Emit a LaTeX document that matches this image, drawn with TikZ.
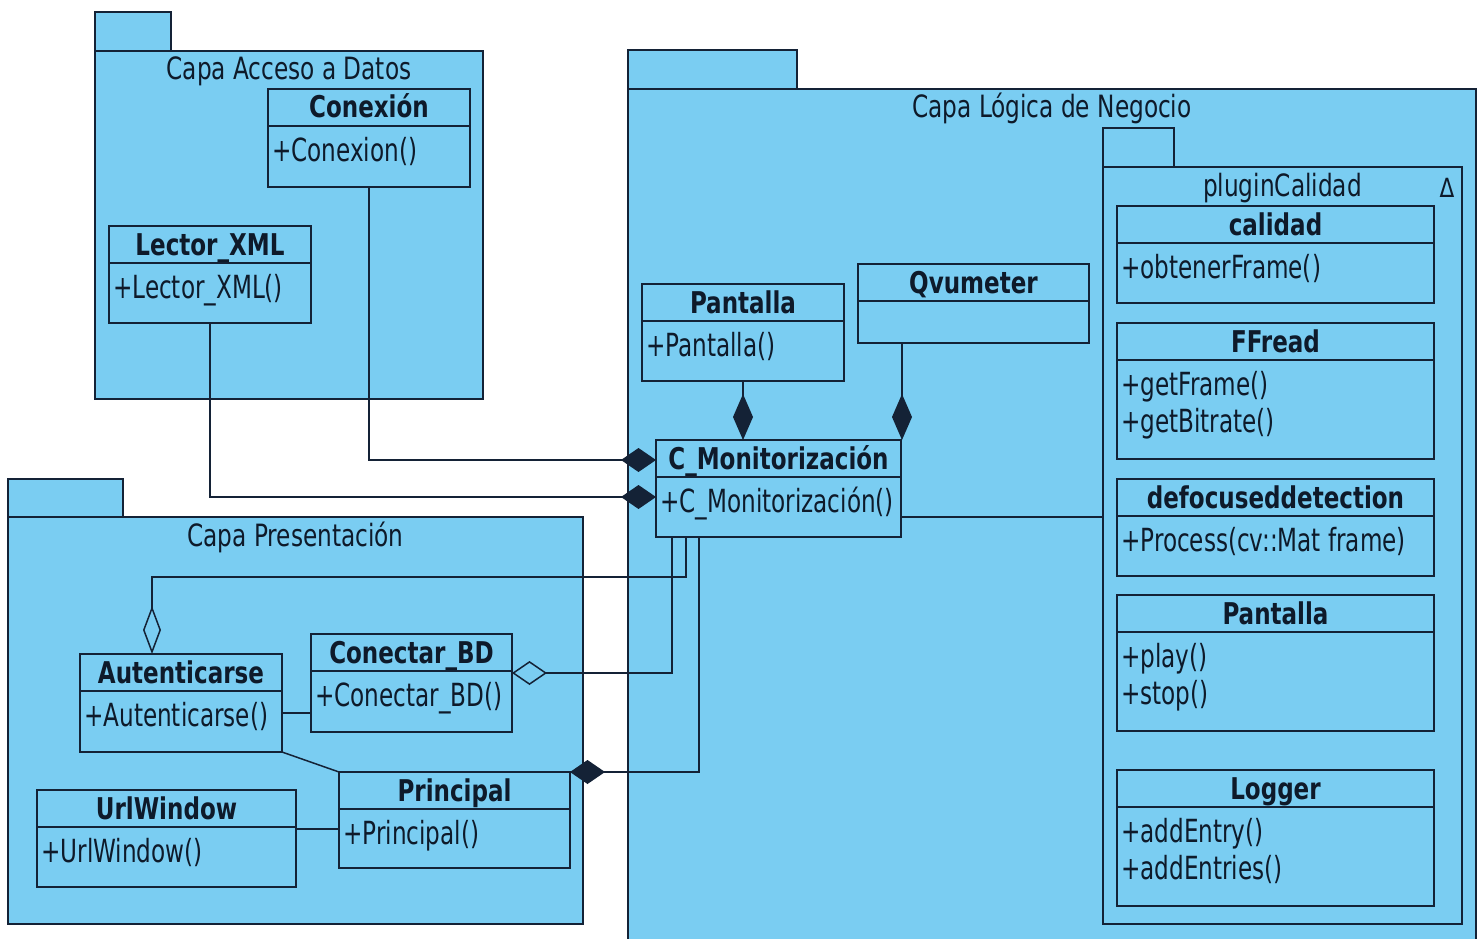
\documentclass[tikz,border=0pt]{standalone}
\usepackage{fontspec}
\setmainfont{DejaVu Sans Condensed}
\usepackage{graphicx}
\usepackage{tikz}
\usetikzlibrary{arrows.meta}
\usepackage{xcolor}
\definecolor{umlfill}{RGB}{122,205,242}
\definecolor{umlline}{RGB}{20,34,54}
\definecolor{umltext}{RGB}{14,26,42}

% taller glyphs, as in the screenshot
\newcommand{\tall}[2]{\scalebox{1}[#1]{#2}}

% one class box: name, left, top, width, height, title, operations
\newcommand{\umlclass}[7]{%
  \node[cls,minimum width=#4pt,minimum height=#5pt] (#1) at (#2,#3) {};
  \draw[link] ([yshift=-37pt]#1.north west) -- ([yshift=-37pt]#1.north east);
  \node[clsname] at ([yshift=-29pt]#1.north) {\tall{1.17}{#6}};
  \foreach \op [count=\k] in {#7} {
    \node[clsop] at ({#2+4},{#3+35+37*\k}) {\tall{1.24}{\op}};
  }
}

\begin{document}
\begin{tikzpicture}[x=1pt,y=-1pt,line cap=round,
  pkg/.style={draw=umlline,fill=umlfill,line width=1.5pt,anchor=north west,inner sep=0pt,outer sep=0pt},
  cls/.style={draw=umlline,fill=umlfill,line width=1.5pt,anchor=north west,inner sep=0pt,outer sep=0pt},
  link/.style={draw=umlline,line width=1.5pt},
  pkgtitle/.style={font=\fontsize{25.8}{30}\selectfont,text=umltext,anchor=base,inner sep=0pt},
  clsname/.style={font=\bfseries\fontsize{25.6}{30}\selectfont,text=umltext,anchor=base,inner sep=0pt},
  clsop/.style={font=\fontsize{25.7}{30}\selectfont,text=umltext,anchor=base west,inner sep=0pt},
  compH/.style={link,-{Diamond[length=35pt,width=24pt,fill=umlline]}},
  compV/.style={link,-{Diamond[length=46pt,width=20pt,fill=umlline]}},
  aggH/.style={link,-{Diamond[length=35pt,width=24pt,fill=umlfill]}},
  aggV/.style={link,-{Diamond[length=48pt,width=18pt,fill=umlfill]}}]
\useasboundingbox[fill=white] (0,0) rectangle (1483,939);

% packages
\node[pkg,minimum width=76pt,minimum height=39pt] (datostab) at (95,12) {};
\node[pkg,minimum width=388pt,minimum height=348pt] (datos) at (95,51) {};
\node[pkgtitle] at ([yshift=-29pt]datos.north) {\tall{1.19}{Capa Acceso a Datos}};

\node[pkg,minimum width=169pt,minimum height=39pt] (logicatab) at (628,50) {};
\node[pkg,minimum width=848pt,minimum height=855pt] (logica) at (628,89) {};
\node[pkgtitle] at ([yshift=-29pt]logica.north) {\tall{1.19}{Capa Lógica de Negocio}};

\node[pkg,minimum width=115pt,minimum height=38pt] (presenttab) at (8,479) {};
\node[pkg,minimum width=575pt,minimum height=407pt] (present) at (8,517) {};
\node[pkgtitle] at ([yshift=-29pt]present.north) {\tall{1.19}{Capa Presentación}};

\node[pkg,minimum width=71pt,minimum height=39pt] (plugintab) at (1103,128) {};
\node[pkg,minimum width=359pt,minimum height=757pt] (plugin) at (1103,167) {};
\node[pkgtitle] at ([yshift=-29pt]plugin.north) {\tall{1.19}{pluginCalidad}};
\node[pkgtitle,font=\fontsize{24}{28}\selectfont] (pluginmark) at (1447,197) {\tall{1.1}{Δ}};

% classes
\umlclass{conex}{268}{89}{202}{98}{Conexión}{+Conexion()}
\umlclass{lector}{109}{226}{202}{97}{Lector\_XML}{+Lector\_XML()}
\umlclass{pantalla}{642}{284}{202}{97}{Pantalla}{+Pantalla()}
\umlclass{qvu}{858}{264}{231}{79}{Qvumeter}{}
\umlclass{cmon}{656}{440}{245}{97}{C\_Monitorización}{+C\_Monitorización()}
\umlclass{calidad}{1117}{206}{317}{97}{calidad}{+obtenerFrame()}
\umlclass{ffread}{1117}{323}{317}{136}{FFread}{+getFrame(),+getBitrate()}
\umlclass{defoc}{1117}{479}{317}{97}{defocuseddetection}{+Process(cv::Mat frame)}
\umlclass{player}{1117}{595}{317}{136}{Pantalla}{+play(),+stop()}
\umlclass{logger}{1117}{770}{317}{136}{Logger}{+addEntry(),+addEntries()}
\umlclass{autent}{80}{654}{202}{98}{Autenticarse}{+Autenticarse()}
\umlclass{conbd}{311}{634}{201}{98}{Conectar\_BD}{+Conectar\_BD()}
\umlclass{principal}{339}{772}{231}{96}{Principal}{+Principal()}
\umlclass{url}{37}{790}{259}{97}{UrlWindow}{+UrlWindow()}

% connectors
\coordinate (cm-a) at ([yshift=-20pt]cmon.north west);
\coordinate (cm-b) at ([yshift=40pt]cmon.south west);
\coordinate (cm-c) at ([xshift=16pt]cmon.south west);
\coordinate (cm-d) at ([xshift=30pt]cmon.south west);
\coordinate (cm-e) at ([xshift=43pt]cmon.south west);
\coordinate (cm-r) at ([yshift=20pt]cmon.south east);
\coordinate (qv-b) at ([xshift=44pt]qvu.south west);
\coordinate (au-t) at ([xshift=72pt]autent.north west);
\coordinate (au-r) at ([yshift=-59pt]autent.north east);
\coordinate (bd-r) at ([yshift=-39pt]conbd.north east);
\coordinate (url-r) at ([yshift=-39pt]url.north east);

\draw[compH] (conex.south) |- (cm-a);
\draw[compH] (lector.south) |- (cm-b);
\draw[compV] (pantalla.south) -- (pantalla.south |- cmon.north);
\draw[compV] (qv-b) -- (qv-b |- cmon.north);
\draw[link] (cm-r) -- (cm-r -| plugin.west);
\draw[aggV] (cm-d) -- ++(0,40) -| (au-t);
\draw[aggH] (cm-c) |- (bd-r);
\draw[compH] (cm-e) |- (principal.north east);
\draw[link] (au-r) -- (au-r -| conbd.west);
\draw[link] (autent.south east) -- (principal.north west);
\draw[link] (url-r) -- (url-r -| principal.west);
\end{tikzpicture}
\end{document}
